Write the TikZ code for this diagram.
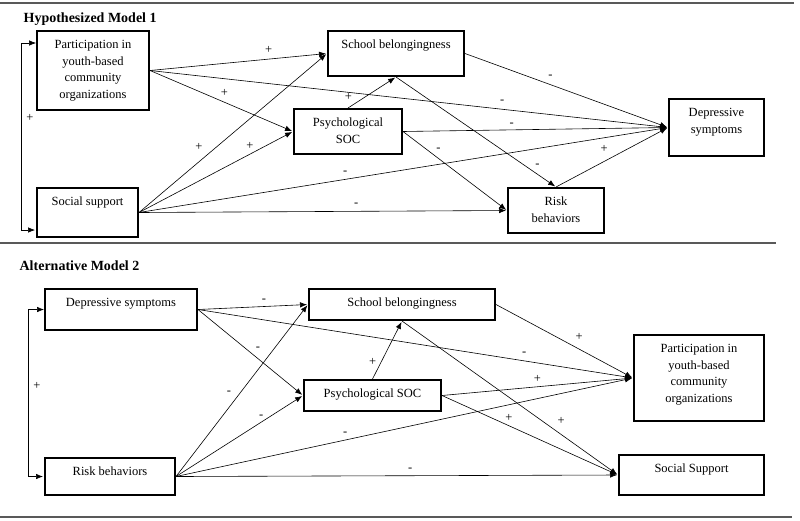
\documentclass[tikz,border=0pt]{standalone}
\usepackage{fontspec}
\setmainfont{Liberation Serif}
\usetikzlibrary{arrows.meta}

\begin{document}
\begin{tikzpicture}[x=1pt,y=-1pt,->,>={Latex[length=7pt,width=5.5pt]},shorten >=1pt,semithick]
  \tikzstyle{box}=[draw,line width=2pt,anchor=north west,align=center,inner xsep=0pt,inner ysep=8pt,text height=9.5pt,font=\fontsize{12.5}{16.5}\selectfont]
  \tikzstyle{sign}=[inner sep=2pt,font=\fontsize{12.5}{14}\selectfont]
  \tikzstyle{rule}=[-,draw=black!65,line width=1.2pt]
  \tikzstyle{title}=[anchor=base west,font=\bfseries\fontsize{14}{16}\selectfont]

  \useasboundingbox (0,0) rectangle (800,520);
  \draw[rule] (0,3) -- (795,3);
  \draw[rule] (0,243) -- (777,243);
  \draw[rule] (0,517) -- (793,517);

  \node[title] (title1) at (20,22) {Hypothesized Model 1};
  \node[title] (title2) at (16,270) {Alternative Model 2};

  \node[box,minimum width=112pt,text height=59pt,text depth=4pt] (part) at (36,30) {Participation in\\youth-based\\community\\organizations};
  \node[box,minimum width=101pt,text depth=23.5pt] (ss) at (36,187) {Social support};
  \node[box,minimum width=136pt,text depth=19.5pt] (school) at (327,30) {School belongingness};
  \node[box,minimum width=108pt,text height=26pt,text depth=3pt] (soc) at (293,108) {Psychological\\SOC};
  \node[box,minimum width=95pt,text height=26pt,text depth=15pt] (dep) at (668,98) {Depressive\\symptoms};
  \node[box,minimum width=96pt,text height=26pt,text depth=3pt] (risk) at (507,187) {Risk\\behaviors};

  \node[box,minimum width=152pt,text depth=15.5pt] (dep2) at (44,288) {Depressive symptoms};
  \node[box,minimum width=130pt,text depth=11.5pt] (risk2) at (44,457) {Risk behaviors};
  \node[box,minimum width=186pt,text depth=5.5pt] (school2) at (308,288) {School belongingness};
  \node[box,minimum width=137pt,text depth=5.5pt] (soc2) at (303,379) {Psychological SOC};
  \node[box,minimum width=130pt,text height=59pt,text depth=11pt] (part2) at (633,334) {Participation in\\youth-based\\community\\organizations};
  \node[box,minimum width=145pt,text depth=14.5pt] (ssup2) at (618,454) {Social Support};

  \draw[<->] ([yshift=-13pt]part.north west) -- ++(-15,0) |- ([yshift=8pt]ss.south west) node[sign,pos=.2,right=3pt] {+};
  \draw[<->] (dep2.west) -- ++(-16,0) |- (risk2.west) node[sign,pos=.23,right=3pt] {+};

  \path
  (part.east) edge node[sign,pos=.67,above=3pt] {+} (school.west)
  (part.east) edge node[sign,pos=.52,above=3pt] {+} (soc.west)
  (part.east) edge node[sign,pos=.68,above=3pt] {-} (dep.west)
  (ss.east) edge node[sign,pos=.36,above left=2pt] {+} (school.west)
  (ss.east) edge node[sign,pos=.72,above=2pt] {+} (soc.west)
  (ss.east) edge node[sign,pos=.39,above=3pt] {-} (dep.west)
  (ss.east) edge node[sign,pos=.59,above=3pt] {-} (risk.west)
  (soc.north) edge node[sign,pos=.15,above left=1pt] {+} (school.south)
  (soc.east) edge node[sign,pos=.41,above=1pt] {-} (dep.west)
  (soc.east) edge node[sign,pos=.29,above right=1pt] {-} (risk.west)
  (school.east) edge node[sign,pos=.39,above right=2pt] {-} (dep.west)
  (school.south) edge node[sign,pos=.85,above right=1pt] {-} (risk.north)
  (risk.north) edge node[sign,pos=.5,above left=2pt] {+} (dep.west);

  \path
  (dep2.east) edge node[sign,pos=.6,above=2pt] {-} (school2.west)
  (dep2.east) edge node[sign,pos=.52,above right=1pt] {-} (soc2.west)
  (dep2.east) edge node[sign,pos=.75,above=3pt] {-} (part2.west)
  (risk2.east) edge node[sign,pos=.45,above left=2pt] {-} (school2.west)
  (risk2.east) edge node[sign,pos=.67,above=1pt] {-} (soc2.west)
  (risk2.east) edge node[sign,pos=.37,above=2pt] {-} (part2.west)
  (risk2.east) edge node[sign,pos=.53,above=2pt] {-} (ssup2.west)
  (soc2.north) edge node[sign,pos=.3,left=3pt] {+} (school2.south)
  (school2.east) edge node[sign,pos=.55,above right=2pt] {+} (part2.west)
  (soc2.east) edge node[sign,pos=.5,above=2pt] {+} (part2.west)
  (soc2.east) edge node[sign,pos=.38,above=2pt] {+} (ssup2.west)
  (school2.south) edge node[sign,pos=.7,above right=2pt] {+} (ssup2.west);
\end{tikzpicture}
\end{document}
